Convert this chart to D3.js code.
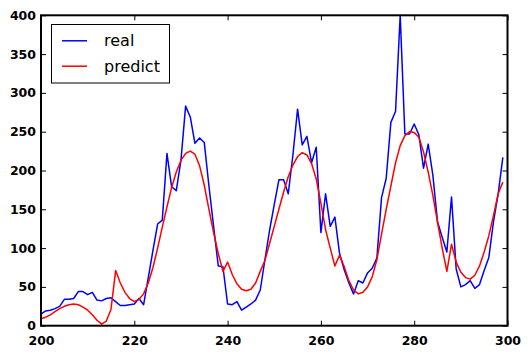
<!DOCTYPE html>
<html><head><meta charset="utf-8">
<script src="https://cdn.jsdelivr.net/npm/d3@7"></script>
<style>body{margin:0;background:#fff;} svg{display:block}</style>
</head><body>
<svg id="c" width="530" height="356"></svg>
<script>
// ---- data ----
const xStart = 200;
const real = [
  15, 19, 20, 22, 25, 34, 34, 35, 44, 44,
  40, 43, 33, 32, 35, 36, 31, 26, 26, 27,
  28, 35, 27, 62, 97, 131, 136, 222, 179, 174,
  213, 283, 269, 235, 242, 236, 180, 128, 77, 76,
  28, 27, 31, 20, 24, 28, 33, 46, 85, 123,
  156, 188, 188, 170, 220, 279, 233, 244, 210, 230,
  120, 170, 128, 140, 93, 72, 55, 41, 58, 55,
  68, 74, 87, 165, 190, 262, 276, 400, 247, 247,
  260, 246, 203, 234, 194, 134, 114, 95, 166, 73,
  50, 53, 58, 48, 53, 71, 88, 134, 170, 217
];
const predict = [
  9, 11, 14, 18, 22, 25, 27, 28, 27, 24,
  20, 14, 7, 2, 6, 21, 71, 55, 43, 35,
  31, 34, 41, 55, 75, 100, 127, 153, 178, 198,
  213, 222, 225, 221, 206, 181, 150, 120, 93, 70,
  82, 66, 54, 47, 45, 47, 55, 70, 84, 106,
  128, 150, 172, 192, 207, 218, 223, 220, 209, 189,
  158, 124, 100, 77, 91, 76, 58, 46, 41, 43,
  50, 63, 85, 118, 150, 180, 210, 232, 245, 250,
  249, 243, 224, 198, 168, 133, 100, 70, 105, 82,
  69, 62, 60, 65, 77, 95, 116, 142, 170, 185
];
const xTicks = [200, 220, 240, 260, 280, 300];
const yTicks = [0, 50, 100, 150, 200, 250, 300, 350, 400];
const seriesNames = ["real", "predict"];
const seriesColors = ["#0000ff", "#ff0000"];

// ---- layout ----
const L = 41, R = 507.5, T = 15.3, B = 325.7;
const svg = d3.select("#c");
const x = d3.scaleLinear().domain([200, 300]).range([L, R]);
const y = d3.scaleLinear().domain([0, 400]).range([B, T]);
const font = "'DejaVu Sans', sans-serif";

function styleAxis(g, labels) {
  g.select(".domain").remove();
  g.selectAll(".tick line").attr("stroke", "#000").attr("stroke-width", 1);
  g.selectAll(".tick text").attr("fill", "#000")
    .style("font-family", font).style("font-size", "12.5px").style("font-weight", "bold");
  if (!labels) g.selectAll(".tick text").remove();
}

svg.append("g").attr("transform", `translate(0,${B})`)
  .call(d3.axisBottom(x).tickValues(xTicks).tickSizeInner(-5).tickSizeOuter(0).tickPadding(10.5))
  .call(g => styleAxis(g, true));
svg.append("g").attr("transform", `translate(0,${T})`)
  .call(d3.axisTop(x).tickValues(xTicks).tickSizeInner(-5).tickSizeOuter(0))
  .call(g => styleAxis(g, false));
svg.append("g").attr("transform", `translate(${L},0)`)
  .call(d3.axisLeft(y).tickValues(yTicks).tickSizeInner(-5).tickSizeOuter(0).tickPadding(5))
  .call(g => styleAxis(g, true));
svg.append("g").attr("transform", `translate(${R},0)`)
  .call(d3.axisRight(y).tickValues(yTicks).tickSizeInner(-5).tickSizeOuter(0))
  .call(g => styleAxis(g, false));

// ---- lines ----
const line = d3.line().x((d, i) => x(xStart + i)).y(d => y(d));
[real, predict].forEach((s, k) => {
  svg.append("path").datum(s)
    .attr("fill", "none").attr("stroke", seriesColors[k])
    .attr("stroke-width", 1.5).attr("stroke-linejoin", "round")
    .attr("d", line);
});

// ---- frame ----
svg.append("rect").attr("x", L).attr("y", T).attr("width", R - L).attr("height", B - T)
  .attr("fill", "none").attr("stroke", "#000").attr("stroke-width", 2);

// ---- legend ----
const lg = svg.append("g");
lg.append("rect").attr("x", 51.5).attr("y", 24.5).attr("width", 118).attr("height", 58.5)
  .attr("fill", "#fff").attr("stroke", "#000").attr("stroke-width", 1);
seriesNames.forEach((n, k) => {
  const yy = 40.8 + k * 25.4;
  lg.append("line").attr("x1", 62).attr("x2", 87).attr("y1", yy).attr("y2", yy)
    .attr("stroke", seriesColors[k]).attr("stroke-width", 1.5);
  lg.append("text").attr("x", 104).attr("y", yy + 5.6).text(n)
    .style("font-family", font).style("font-size", "16px").attr("fill", "#000");
});
</script>
</body></html>
